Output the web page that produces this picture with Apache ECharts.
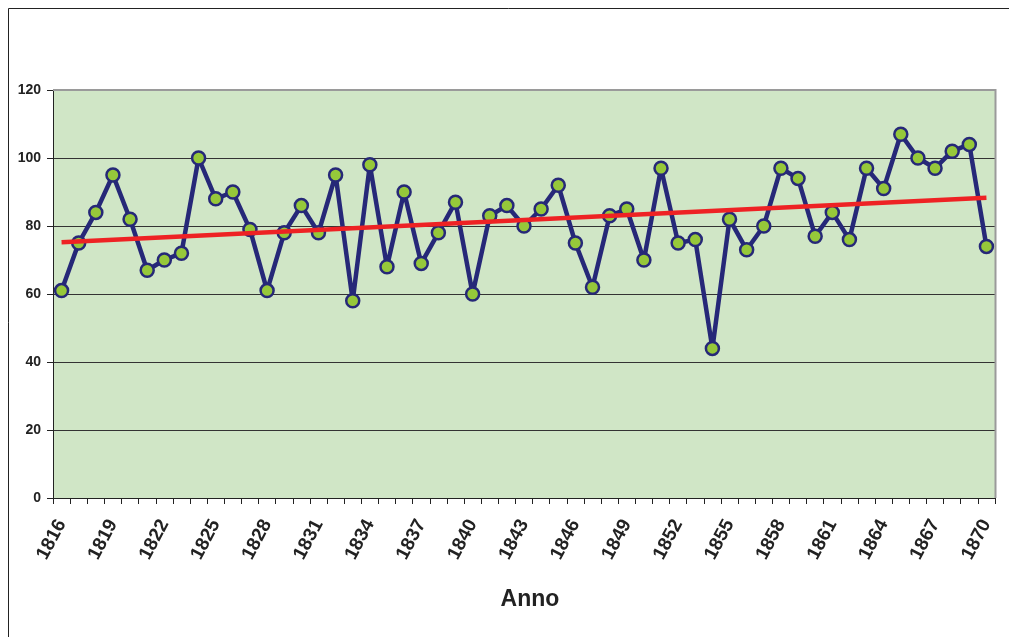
<!DOCTYPE html>
<html>
<head>
<meta charset="utf-8">
<script src="https://cdn.jsdelivr.net/npm/echarts@6/dist/echarts.min.js"></script>
<style>
  html, body { margin: 0; padding: 0; background: #ffffff; }
  #chart { width: 1009px; height: 637px; }
</style>
</head>
<body>
<div id="chart"></div>
<script>
// Years on the category axis
const years = [];
for (let y = 1816; y <= 1870; y++) years.push(String(y));

// Yearly values
const values = [
  61, 75, 84, 95, 82, 67, 70, 72, 100, 88,
  90, 79, 61, 78, 86, 78, 95, 58, 98, 68,
  90, 69, 78, 87, 60, 83, 86, 80, 85, 92,
  75, 62, 83, 85, 70, 97, 75, 76, 44, 82,
  73, 80, 97, 94, 77, 84, 76, 97, 91, 107,
  100, 97, 102, 104, 74
];

// Linear trend endpoints
const trendYears = ['1816', '1870'];
const trendValues = [75.2, 88.3];

// Y axis ticks
const yMin = 0, yMax = 120, yStep = 20;

const chart = echarts.init(document.getElementById('chart'), null, { renderer: 'canvas' });

chart.setOption({
  animation: false,
  backgroundColor: '#ffffff',
  textStyle: { fontFamily: 'Liberation Sans, Arial, sans-serif' },
  graphic: [
    { type: 'line', shape: { x1: 8.5, y1: 8.5, x2: 1009, y2: 8.5 }, style: { stroke: '#222', lineWidth: 1 } },
    { type: 'line', shape: { x1: 8.5, y1: 8.5, x2: 8.5, y2: 637 }, style: { stroke: '#222', lineWidth: 1 } },
    // plot frame: grey on top and right
    { type: 'polyline', shape: { points: [[53, 90], [995.5, 90], [995.5, 498]] }, style: { stroke: '#9a9a9a', lineWidth: 2, fill: null }, z: 5 }
  ],
  grid: {
    left: 53, right: 14, top: 90, bottom: 139,
    show: true, backgroundColor: '#D0E6C6', borderWidth: 0
  },
  xAxis: {
    type: 'category',
    data: years,
    boundaryGap: true,
    name: 'Anno',
    nameLocation: 'middle',
    nameGap: 90,
    nameTextStyle: { fontSize: 23, fontWeight: 'bold', color: '#222', padding: [0, 0, 0, 12] },
    axisLine: { lineStyle: { color: '#222', width: 1 } },
    axisTick: { show: true, interval: 0, length: 6, lineStyle: { color: '#222' } },
    axisLabel: {
      interval: 2, rotate: 62, margin: 23,
      fontSize: 19, fontWeight: 'bold', color: '#222'
    },
    splitLine: { show: false }
  },
  yAxis: {
    type: 'value',
    min: yMin, max: yMax, interval: yStep,
    axisLine: { show: true, lineStyle: { color: '#222', width: 1 } },
    axisTick: { show: true, length: 6, lineStyle: { color: '#222' } },
    axisLabel: { fontSize: 14, fontWeight: 'bold', color: '#222', margin: 12 },
    splitLine: { show: true, lineStyle: { color: '#333', width: 1 } }
  },
  series: [
    {
      type: 'line',
      data: values,
      lineStyle: { color: '#262878', width: 4.5 },
      symbol: 'circle',
      symbolSize: 13,
      showAllSymbol: true,
      itemStyle: { color: '#96C83A', borderColor: '#262878', borderWidth: 2.5 },
      z: 3
    },
    {
      type: 'line',
      data: trendYears.map((y, i) => [y, trendValues[i]]),
      lineStyle: { color: '#EE2224', width: 4.5 },
      symbol: 'none',
      z: 4
    }
  ]
});
</script>
</body>
</html>
